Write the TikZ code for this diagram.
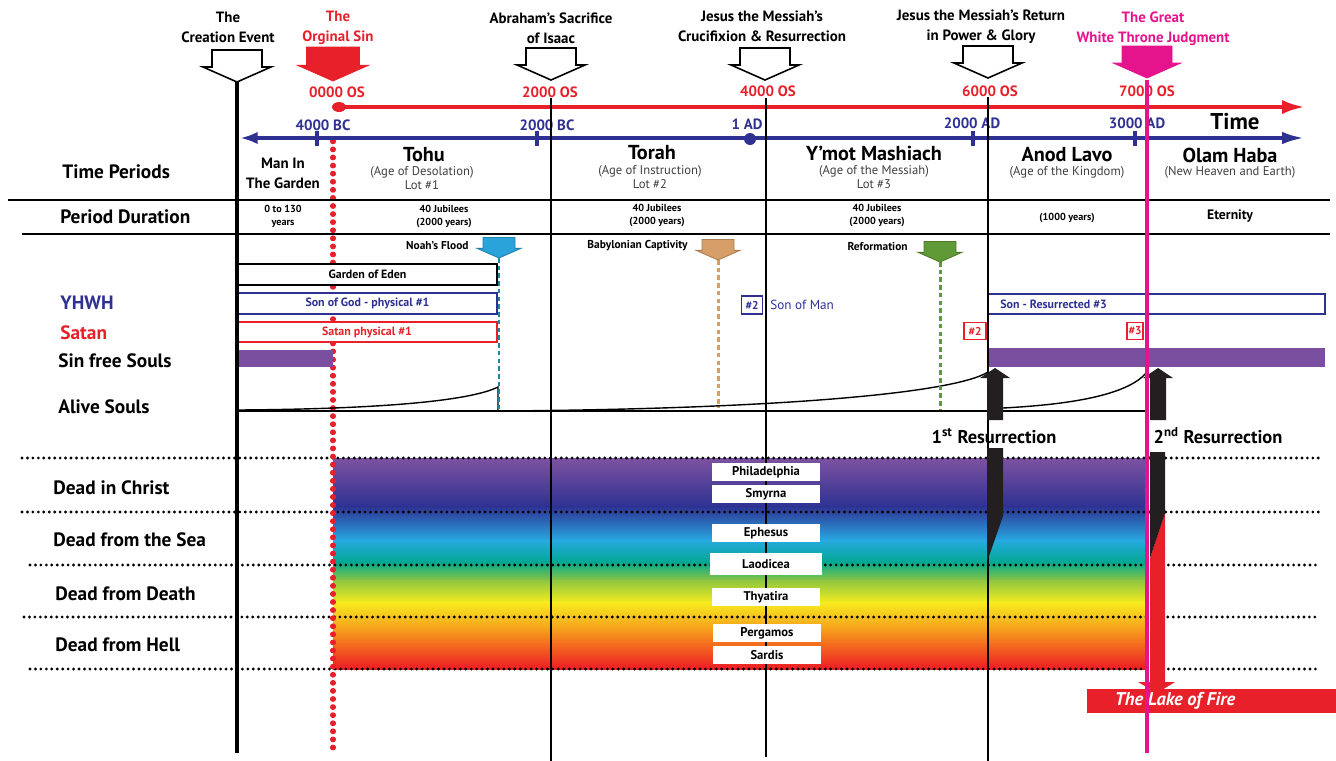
\documentclass[tikz,border=0pt]{standalone}
\usepackage{fontspec}
\setmainfont{PT Sans}
\usetikzlibrary{arrows.meta}

\definecolor{osred}{HTML}{E8202A}
\definecolor{adblue}{HTML}{2E3192}
\definecolor{judgment}{HTML}{E5148C}
\definecolor{soulpurple}{HTML}{7B4F9F}
\definecolor{floodblue}{HTML}{29A3DA}
\definecolor{floodline}{HTML}{1D86A8}
\definecolor{babtan}{HTML}{D69E68}
\definecolor{reformgreen}{HTML}{5F9A37}
\definecolor{resblack}{HTML}{231F20}
\definecolor{bandA}{HTML}{7D52A1}
\definecolor{bandB}{HTML}{2E3192}
\definecolor{bandC}{HTML}{27AAE1}
\definecolor{bandD}{HTML}{00A88F}
\definecolor{bandE}{HTML}{8DC63F}
\definecolor{bandF}{HTML}{F7EC1E}
\definecolor{bandG}{HTML}{F7941D}
\definecolor{bandH}{HTML}{ED1C24}

\tikzset{
  evtitle/.style={font=\bfseries\fontsize{8.5}{11.5}\selectfont, align=center, inner sep=0pt},
  oslabel/.style={font=\bfseries\fontsize{8.5}{9}\selectfont, text=osred, inner sep=0pt},
  adlabel/.style={font=\bfseries\fontsize{8.5}{9}\selectfont, text=adblue, inner sep=0pt},
  rowlabel/.style={font=\bfseries\fontsize{11}{13}\selectfont, anchor=west, inner sep=0pt},
  periodname/.style={font=\bfseries\fontsize{11.5}{12}\selectfont, inner sep=0pt},
  periodsub/.style={font=\fontsize{7.2}{8}\selectfont, text=black!75, align=center, inner sep=0pt},
  duration/.style={font=\bfseries\fontsize{5.8}{7.4}\selectfont, align=center, inner sep=0pt},
  evtext/.style={font=\bfseries\fontsize{6.5}{7}\selectfont, anchor=east, inner sep=0pt},
  barlabel/.style={font=\bfseries\fontsize{6.8}{7}\selectfont, inner sep=0pt},
  numbox/.style={font=\bfseries\fontsize{6.5}{7}\selectfont, line width=0.7pt, inner sep=0pt,
    minimum width=0.42cm, minimum height=0.36cm},
  church/.style={fill=white, font=\bfseries\fontsize{7.2}{8}\selectfont, inner sep=0pt,
    minimum width=2.18cm, minimum height=0.36cm},
  deadlabel/.style={font=\bfseries\fontsize{11}{13}\selectfont, anchor=west, inner sep=0pt},
  rowrule/.style={black, line width=1.8pt, dash pattern=on 0pt off 3.1pt, line cap=round},
  sinline/.style={osred, line width=2.9pt, dash pattern=on 0.4pt off 4.2pt, line cap=round},
  eraline/.style={black, line width=0.75pt},
  markline/.style={line width=1.7pt, dash pattern=on 2.6pt off 1.8pt},
  evarrow/.pic={
    \path[pic actions] (0,0) -- (-34,-15) -- (-25,-15) -- (-25,-32) -- (25,-32)
      -- (25,-15) -- (34,-15) -- cycle;
  },
  resarrow/.pic={
    \path[pic actions] (0,0) -- (15,10) -- (8,10) -- (8,52) -- (-8,52) -- (-8,10)
      -- (-15,10) -- cycle;
  }
}

\begin{document}
\begin{tikzpicture}[x=0.02cm, y=-0.02cm]
  \useasboundingbox (0,0) rectangle (1336,761);

  % the dead, as one colour band
  \shade[top color=bandA, bottom color=bandB] (333,458) rectangle (1147,507);
  \shade[top color=bandB, bottom color=bandC] (333,506) rectangle (1147,541);
  \shade[top color=bandC, bottom color=bandD] (333,540) rectangle (1147,563);
  \shade[top color=bandD, bottom color=bandE] (333,562) rectangle (1147,581);
  \shade[top color=bandE, bottom color=bandF] (333,580) rectangle (1147,603);
  \shade[top color=bandF, bottom color=bandG] (333,602) rectangle (1147,633);
  \shade[top color=bandG, bottom color=bandH] (333,632) rectangle (1147,669);

  \foreach \y/\x in {458/22, 512/22, 565/30, 617/24, 669/30}
    \draw[rowrule] (\x,\y) -- (1320,\y);
  \draw[sinline] (333,141) -- (333,752);

  % event titles
  \node[evtitle] (creation) at (228,27) {The\\Creation Event};
  \node[evtitle, text=osred] (sin) at (338,28) {The\\Orginal Sin};
  \node[evtitle] (abraham) at (551,28) {Abraham’s Sacrifice\\of Isaac};
  \node[evtitle] (cross) at (762,26) {Jesus the Messiah’s\\Crucifixion \& Resurrection};
  \node[evtitle] (return) at (981,27) {Jesus the Messiah’s Return\\in Power \& Glory};
  \node[evtitle, text=judgment] (throne) at (1153,29) {The Great\\White Throne Judgment};

  \pic[draw=black, fill=white, line width=0.9pt] at (237,82) {evarrow};
  \pic[draw=osred, fill=osred, scale=1.06] at (333,81) {evarrow};
  \pic[draw=black, fill=white, line width=0.9pt] at (551,80) {evarrow};
  \pic[draw=black, fill=white, line width=0.9pt] at (765,80) {evarrow};
  \pic[draw=black, fill=white, line width=0.9pt] at (988,78) {evarrow};
  \pic[draw=judgment, fill=judgment] at (1147,78) {evarrow};

  % years since the original sin
  \node[oslabel] (os0) at (337,92) {0000 OS};
  \node[oslabel] (os2) at (550,92) {2000 OS};
  \node[oslabel] (os4) at (768,91) {4000 OS};
  \node[oslabel] (os6) at (990,91) {6000 OS};
  \node[oslabel] (os7) at (1147,91) {7000 OS};
  \fill[osred] (339,107) ellipse (7 and 5);
  \draw[osred, line width=2.3pt, -{Latex[length=13pt,width=8pt]}] (339,107) -- (1305,107);

  % calendar years
  \node[adlabel] (bc4) at (323,125) {4000 BC};
  \node[adlabel] (bc2) at (547,125) {2000 BC};
  \node[adlabel] (ad1) at (747,124) {1 AD};
  \node[adlabel] (ad2) at (972,123) {2000 AD};
  \node[adlabel] (ad3) at (1137,123) {3000 AD};
  \node[font=\bfseries\fontsize{13}{14}\selectfont, inner sep=0pt] (time) at (1235,122) {Time};
  \draw[adblue, line width=2.3pt, {Latex[length=10pt,width=7pt]}-{Latex[length=13pt,width=7pt]}]
    (240,138) -- (1305,138);
  \foreach \x in {317, 537, 973, 1135}
    \draw[adblue, line width=2.3pt] (\x,131) -- (\x,146);
  \fill[adblue] (750,139) circle (6);

  % table rows
  \draw[line width=0.9pt] (8,200) -- (1330,200);
  \draw[line width=0.9pt] (22,234) -- (1330,234);
  \node[rowlabel] (periods) at (62,172) {Time Periods};
  \node[rowlabel] (durations) at (60,217) {Period Duration};

  \node[font=\bfseries\fontsize{8.5}{11.5}\selectfont, align=center, inner sep=0pt] (garden) at (283,173)
    {Man In\\The Garden};
  \node[periodname] (tohu) at (424,155) {Tohu};
  \node[periodsub] (tohusub) at (422,178) {(Age of Desolation)\\Lot \#1};
  \node[periodname] (torah) at (652,153) {Torah};
  \node[periodsub] (torahsub) at (650,177) {(Age of Instruction)\\Lot \#2};
  \node[periodname] (ymot) at (874,153) {Y’mot Mashiach};
  \node[periodsub] (ymotsub) at (874,177) {(Age of the Messiah)\\Lot \#3};
  \node[periodname] (anod) at (1067,155) {Anod Lavo};
  \node[periodsub] (anodsub) at (1067,172) {(Age of the Kingdom)};
  \node[periodname] (olam) at (1230,155) {Olam Haba};
  \node[periodsub] (olamsub) at (1230,172) {(New Heaven and Earth)};

  \node[duration] (durgarden) at (283,216) {0 to 130\\years};
  \node[duration] (durtohu) at (444,216) {40 Jubilees\\(2000 years)};
  \node[duration] (durtorah) at (657,215) {40 Jubilees\\(2000 years)};
  \node[duration] (durmessiah) at (877,215) {40 Jubilees\\(2000 years)};
  \node[duration] (durkingdom) at (1067,218) {(1000 years)};
  \node[font=\bfseries\fontsize{7.8}{8}\selectfont, inner sep=0pt] (eternity) at (1230,216) {Eternity};

  % who is alive
  \node[rowlabel, text=adblue] (yhwh) at (60,303) {YHWH};
  \node[rowlabel, text=osred] (satan) at (60,333) {Satan};
  \node[rowlabel] (sinfree) at (58,361) {Sin free Souls};
  \node[rowlabel] (alive) at (58,407) {Alive Souls};

  \draw[fill=white, line width=0.9pt] (238,264) rectangle (497,285) node[midway, barlabel] (eden) {Garden of Eden};
  \draw[adblue, fill=white, line width=0.7pt] (238,293) rectangle (497,314)
    node[midway, barlabel, text=adblue] (songod) {Son of God - physical \#1};
  \draw[osred, fill=white, line width=0.7pt] (237,322) rectangle (497,342)
    node[midway, barlabel, text=osred] (satan1) {Satan physical \#1};
  \fill[soulpurple] (238,350) rectangle (333,367);

  \node[numbox, draw=adblue, text=adblue] (son2) at (752,305) {\#2};
  \node[barlabel, text=adblue, anchor=west, font=\fontsize{7.5}{8}\selectfont] (sonman) at (770,305) {Son of Man};
  \draw[adblue, line width=0.7pt] (988,294) rectangle (1325,314);
  \node[barlabel, text=adblue, anchor=west] (sonres) at (1000,304) {Son - Resurrected \#3};
  \node[numbox, draw=osred, text=osred, minimum width=0.44cm, minimum height=0.34cm] (satan2) at (975,331) {\#2};
  \node[numbox, draw=osred, text=osred, minimum width=0.32cm, minimum height=0.34cm] (satan3) at (1135,331) {\#3};
  \fill[soulpurple] (988,348) rectangle (1325,367);

  % alive souls
  \draw[line width=0.8pt] (237,411) -- (1147,411);
  \draw[line width=0.8pt] (239,410) .. controls (380,409) and (470,401) .. (498,387) -- (498,411);
  \draw[line width=0.8pt] (500,411) .. controls (780,409) and (955,393) .. (988,372);
  \draw[line width=0.8pt] (1003,408) .. controls (1080,404) and (1130,393) .. (1147,372);

  % markers
  \node[evtext] (flood) at (469,246) {Noah’s Flood};
  \node[evtext] (babylon) at (688,246) {Babylonian Captivity};
  \node[evtext] (reform) at (908,247) {Reformation};
  \draw[markline, floodline] (499,258) -- (499,410);
  \draw[markline, babtan] (718,260) -- (718,408);
  \draw[markline, reformgreen] (940,262) -- (940,410);
  \pic[fill=floodblue, draw=floodblue!80!black, line width=0.5pt, scale=0.64] at (499,258) {evarrow};
  \pic[fill=babtan, draw=babtan!80!black, line width=0.5pt, scale=0.64] at (718,260) {evarrow};
  \pic[fill=reformgreen, draw=reformgreen!80!black, line width=0.5pt, scale=0.64] at (940,262) {evarrow};

  % era lines
  \draw[eraline] (551,98) -- (551,761);
  \draw[eraline] (766,98) -- (766,757);
  \draw[eraline] (988,97) -- (988,761);
  \draw[black, line width=1.8pt] (237,82) -- (237,753);

  % resurrections
  \pic[fill=resblack] at (995,368) {resarrow};
  \pic[fill=resblack] at (1158,368) {resarrow};
  \node[font=\bfseries\fontsize{10.5}{12}\selectfont, inner sep=0pt] (res1) at (994,436)
    {1\textsuperscript{st} Resurrection};
  \node[font=\bfseries\fontsize{10.5}{12}\selectfont, inner sep=0pt] (res2) at (1218,436)
    {2\textsuperscript{nd} Resurrection};
  \fill[resblack] (987,448) -- (1003,448) -- (1003,516) -- (987,562) -- cycle;
  \fill[osred] (1165,512) -- (1165,682) -- (1175,682) -- (1157,693) -- (1138,682) -- (1150,682)
    -- (1150,558) -- cycle;
  \fill[resblack] (1150,452) -- (1165,452) -- (1165,513) -- (1150,558) -- cycle;

  % churches
  \node[church] (philadelphia) at (766,472) {Philadelphia};
  \node[church] (smyrna) at (766,494) {Smyrna};
  \node[church] (ephesus) at (766,533) {Ephesus};
  \node[church, minimum width=2.24cm, minimum height=0.44cm] (laodicea) at (766,564) {Laodicea};
  \node[church] (thyatira) at (766,597) {Thyatira};
  \node[church] (pergamos) at (767,633) {Pergamos};
  \node[church] (sardis) at (767,655) {Sardis};

  \node[deadlabel] (christ) at (53,488) {Dead in Christ};
  \node[deadlabel] (sea) at (53,540) {Dead from the Sea};
  \node[deadlabel] (death) at (55,594) {Dead from Death};
  \node[deadlabel] (hell) at (55,645) {Dead from Hell};

  % judgment
  \fill[osred] (1087,689) rectangle (1336,713);
  \node[font=\bfseries\itshape\fontsize{10.5}{12}\selectfont, text=white, inner sep=0pt] (lake) at (1175,701)
    {The Lake of Fire};
  \draw[judgment, line width=1.8pt] (1147,80) -- (1147,753);
\end{tikzpicture}
\end{document}
